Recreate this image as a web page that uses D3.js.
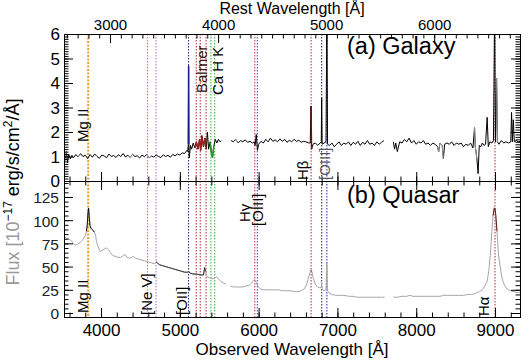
<!DOCTYPE html>
<html><head><meta charset="utf-8">
<script src="https://cdn.jsdelivr.net/npm/d3@7"></script>
<style>body{margin:0;background:#fff}svg{display:block}text{font-family:"Liberation Sans",Arial,sans-serif}</style>
</head><body><svg id="c" width="530" height="360"></svg>
<script>
// ---------------- data ----------------
const redshift = 0.3713;
// galaxy spectrum (observed wavelength [A], flux); null = no data
const galaxyWave = [3530,3545,3560,3575,3590,3610,3630,3650,3680,3710,3740,3770,3800,3830,3860,3890,3920,3950,3980,4010,4040,4070,4100,4130,4160,4190,4220,4250,4280,4310,4340,4370,4400,4430,4460,4490,4520,4550,4580,4610,4640,4670,4700,4730,4760,4790,4820,4850,4880,4910,4940,4970,5000,5030,5060,5090,5100,5108,5111,5114,5120,5135,5150,5170,5190,5210,5230,5250,5265,5280,5300,5320,5335,5350,5365,5385,5400,5415,5430,5450,5470,5490,5510,5525,5590,
5650,5680,5710,5740,5770,5800,5830,5860,5890,5920,5945,5955,5970,5985,6000,6030,6060,6090,6120,6150,6180,6210,6240,6270,6300,6330,6360,6390,6420,6450,6480,6510,6540,6570,6600,6630,6655,6665,6672,6690,6720,6750,6780,6795,6800,6806,6830,6855,6866,6875,6900,6930,6960,6990,7020,7050,7080,7110,7140,7170,7200,7230,7260,7290,7320,7350,7380,7410,7440,7470,7500,7530,7560,7590,7650,
7710,7725,7740,7760,7790,7820,7850,7880,7910,7940,7970,8000,8030,8060,8090,8120,8150,8180,8210,8240,8270,8285,8300,8330,8345,8360,8390,8420,8450,8480,8510,8540,8570,8600,8630,8660,8690,8720,8740,8750,8770,8785,8800,8820,8840,8860,8880,8900,8915,8935,8960,8980,8995,9005,9020,9030,9050,9080,9110,9140,9170,9200,9210,9220,9232,9245,9270,9300,9317];
const galaxyFlux = [1.25,0.85,1.2,0.75,1.1,0.9,1.05,0.95,1.08,0.98,1.12,1.0,1.05,0.92,1.08,0.97,1.1,1.0,0.93,1.06,1.02,0.95,1.1,1.0,1.04,0.96,1.07,1.0,1.12,0.98,1.05,0.97,1.09,1.0,1.03,0.94,1.06,0.99,1.08,0.95,1.02,0.98,1.06,1.0,0.96,1.07,1.0,1.05,0.97,1.08,1.03,1.1,1.06,1.15,1.12,1.25,1.2,1.5,4.7,1.5,0.95,1.45,1.3,1.55,1.35,1.6,1.3,1.7,1.25,1.85,1.4,1.75,1.3,2.0,1.3,1.6,1.15,0.95,1.4,1.7,1.55,1.7,1.6,1.65,null,
1.65,1.6,1.7,1.55,1.65,1.6,1.68,1.58,1.62,1.55,1.6,1.45,1.9,1.25,1.5,1.62,1.55,1.7,1.6,1.75,1.62,1.68,1.6,1.72,1.62,1.7,1.58,1.66,1.6,1.7,1.62,1.66,1.58,1.62,1.6,1.56,1.55,3.06,1.3,1.5,1.55,1.45,1.55,1.6,3.4,1.5,1.55,1.6,7,1.5,1.45,1.55,1.4,1.5,1.6,1.45,1.55,1.5,1.6,1.45,1.58,1.5,1.62,1.45,1.58,1.5,1.65,1.5,1.55,1.45,1.6,1.5,1.58,1.65,null,
1.6,1.3,1.55,1.2,1.6,1.55,1.7,1.6,1.75,1.55,1.65,1.5,1.6,1.55,1.65,1.5,1.55,1.45,1.55,1.5,1.4,1.2,1.55,1.45,0.9,1.5,1.55,1.5,1.6,1.45,1.55,1.5,1.55,1.4,1.5,1.45,1.55,1.35,2.2,1.4,0.9,0.3,1.45,1.4,1.55,1.45,1.5,2.6,1.4,1.6,1.55,1.65,7,1.6,4.2,1.6,1.5,1.65,1.55,1.6,1.55,1.6,2.8,1.6,2.5,1.6,1.65,1.6,1.62];
// quasar spectrum
const quasarWave = [3530,3560,3590,3620,3650,3670,3700,3734,3770,3800,3815,3825,3835,3842,3850,3860,3875,3898,3915,3930,3945,3970,3990,4010,4040,4070,4095,4120,4150,4180,4215,4250,4285,4305,4330,4360,4390,4410,4440,4480,4520,4560,4600,4640,4680,4700,4715,4740,4780,4820,4860,4900,4940,4980,5020,5060,5100,5111,5130,5170,5210,5260,5300,5315,5325,5345,5380,5420,5450,5470,5490,5520,5560,5590,5615,
5640,5680,5720,5760,5800,5840,5880,5910,5935,5952,5970,5990,6020,6060,6100,6150,6200,6250,6300,6350,6400,6450,6500,6540,6580,6610,6640,6660,6675,6695,6720,6750,6780,6795,6800,6806,6830,6855,6866,6874,6900,6930,6980,7030,7080,7150,7200,7250,7300,7350,7400,7450,7500,7560,7600,7650,
7710,7760,7820,7880,7920,7960,8000,8050,8100,8150,8200,8250,8300,8350,8400,8450,8500,8550,8600,8650,8700,8750,8800,8840,8870,8900,8920,8940,8960,8975,8990,9000,9010,9025,9045,9065,9090,9110,9140,9170,9200,9240,9280,9317];
const quasarFlux = [82,81,80,78,75,73,74,76,79,83,88,95,108,113,104,94,91,89,87,84,76,70,66,67,69,70,68,65,62,61,60,60,62,63,60,59,60,61,59,58,57,56,55,54,53,55,54,52,51,50,49,48,47,46,45,44,44,45,43,42,42,41,41,49,45,39,38,37,38,39,37,34,32,31,null,
29,28,28,28,28,29,30,32,35,36,33,29,26,25,25,25,25,25,24,24,24,23,23,24,26,31,40,46,45,37,31,28,27,28,33,26,24,25,54,24,21,20,19,19,19,18,18,17,17,17,17,17,17,17,17,null,
17,17,18,18,19,18,18,18,18,18,18,18,18,19,19,19,19,19,19,20,20,21,23,25,29,34,45,62,88,105,113,113,105,88,62,50,37,32,27,25,24,23,22,22];
// emission / absorption line markers (rest wavelength)
const lineRest   = [2798, 3346, 3426, 3727, 3798, 3835, 3889, 3934, 3969, 4340, 4363, 4861, 4959, 5007, 6563];
const lineColors = ["#e8a030","#a070d0","#a070d0","#202070","#b02828","#b02828","#b02828","#30b030","#30b030","#c03030","#404090","#b02828","#202070","#2828b0","#b02828"];
// highlighted (fit) regions of the spectra [start, end] observed
const galaxyGrey = [[3530,3565],[3700,3760],[4330,4420],[4570,4640],[5705,5760],[8270,8350],[8740,8770],[9010,9030]];
const galaxyColored = [[5105,5117],[5180,5345],[5385,5440],[6658,6672],[6797,6804],[6862,6870],[8990,9002]];
const galaxyColoredC = ["#1a1a8a","#9a2020","#209a20","#7a1010","#1a1a8a","#2020c0","#901010"];
const quasarDark = [[3812,3928],[4690,5330],[6655,6680],[6862,6870],[8965,9030]];
const quasarDarkC = ["#111","#333","#6a2020","#333","#6a1a1a"];
// tick values
const galaxyTicks = [0,1,2,3,4,5,6];
const quasarTicks = [0,25,50,75,100,125];
const obsTicks = [4000,5000,6000,7000,8000,9000];
const restTicks = [3000,4000,5000,6000];

// ---------------- drawing ----------------
const svg = d3.select("#c");
const L = 64, R = 520, T = 34, M = 181, B = 317;
const x = d3.scaleLinear().domain([3530, 9317]).range([L, R]);
const xr = d3.scaleLinear().domain([3530/(1+redshift), 9317/(1+redshift)]).range([L, R]);
const yG = d3.scaleLinear().domain([0, 6]).range([M, T]);
const yQ = d3.scaleLinear().domain([-4.3, 142.2]).range([B, M]);

const defs = svg.append("defs");
defs.append("clipPath").attr("id","cg").append("rect").attr("x",L).attr("y",T).attr("width",R-L).attr("height",M-T);
defs.append("clipPath").attr("id","cq").append("rect").attr("x",L).attr("y",M).attr("width",R-L).attr("height",B-M);

const galaxy = galaxyWave.map((w,i)=>({w, f: galaxyFlux[i]}));
const quasar = quasarWave.map((w,i)=>({w, f: quasarFlux[i]}));
const lineG = d3.line().defined(d=>d.f!=null).x(d=>x(d.w)).y(d=>yG(d.f));
const lineQ = d3.line().defined(d=>d.f!=null).x(d=>x(d.w)).y(d=>yQ(d.f));
const sub = (arr, a, b) => arr.filter(d => d.w >= a && d.w <= b);

// vertical line markers
function markers(y0, y1) {
  const g = svg.append("g");
  lineRest.forEach((r,i)=>{
    const xo = x(r*(1+redshift));
    g.append("line").attr("x1",xo).attr("x2",xo).attr("y1",y0).attr("y2",y1)
      .attr("stroke",lineColors[i]).attr("stroke-width", i===0?2:1)
      .attr("stroke-dasharray", i===0?"2,1.5":"1.5,1.5");
  });
}
markers(T, M); markers(M, B);

// galaxy
const gg = svg.append("g").attr("clip-path","url(#cg)");
gg.append("path").attr("d", lineG(galaxy)).attr("fill","none").attr("stroke","#000").attr("stroke-width",1);
galaxyGrey.forEach(([a,b])=>gg.append("path").attr("d", lineG(sub(galaxy,a,b))).attr("fill","none").attr("stroke","#999").attr("stroke-width",1));
galaxyColored.forEach(([a,b],i)=>gg.append("path").attr("d", lineG(sub(galaxy,a,b))).attr("fill","none").attr("stroke",galaxyColoredC[i]).attr("stroke-width",1.4));

// quasar
const qg = svg.append("g").attr("clip-path","url(#cq)");
qg.append("path").attr("d", lineQ(quasar)).attr("fill","none").attr("stroke","#a6a6a6").attr("stroke-width",1);
quasarDark.forEach(([a,b],i)=>qg.append("path").attr("d", lineQ(sub(quasar,a,b))).attr("fill","none").attr("stroke",quasarDarkC[i]).attr("stroke-width",1));

// axes
const font = "Liberation Sans, Arial, sans-serif";
function range(a,b,s){const o=[];for(let v=a;v<=b+1e-9;v+=s)o.push(+v.toFixed(6));return o;}
function ax(gen, tx, ty, ticks, size, labels, fs) {
  const g = svg.append("g").attr("transform",`translate(${tx},${ty})`)
    .call(gen.tickValues(ticks).tickSize(size).tickFormat(labels? d3.format("d") : ""));
  g.select(".domain").attr("stroke","#000");
  g.selectAll(".tick line").attr("stroke","#000");
  g.selectAll("text").attr("fill","#000").attr("font-size",fs||16).attr("font-family",font);
  return g;
}
const MJ = -9, MN = -4.5;
// galaxy panel
ax(d3.axisLeft(yG).tickPadding(4), L, 0, galaxyTicks, MJ, true, 17).selectAll("text").attr("dy","0.34em");
ax(d3.axisLeft(yG), L, 0, range(0,6,0.1), MN, false);
ax(d3.axisRight(yG), R, 0, galaxyTicks, MJ, false);
ax(d3.axisRight(yG), R, 0, range(0,6,0.1), MN, false);
ax(d3.axisBottom(x), 0, M, obsTicks, MJ, false);
ax(d3.axisBottom(x), 0, M, range(3600,9300,200), MN, false);
ax(d3.axisTop(xr).tickPadding(4), 0, T, restTicks, MJ, true, 15);
ax(d3.axisTop(xr), 0, T, range(2600,6700,100), MN, false);
// quasar panel
ax(d3.axisLeft(yQ).tickPadding(5), L, 0, quasarTicks, MJ, true, 15.5).selectAll("text").attr("fill","#222").attr("dy","0.38em");
ax(d3.axisLeft(yQ), L, 0, range(0,140,5), MN, false);
ax(d3.axisRight(yQ), R, 0, quasarTicks, MJ, false);
ax(d3.axisRight(yQ), R, 0, range(0,140,5), MN, false);
ax(d3.axisTop(x), 0, M, obsTicks, MJ, false);
ax(d3.axisTop(x), 0, M, range(3600,9300,200), MN, false);
ax(d3.axisBottom(x).tickPadding(7), 0, B, obsTicks, MJ, true, 17);
ax(d3.axisBottom(x), 0, B, range(3600,9300,200), MN, false);

// titles
svg.append("text").attr("x",292).attr("y",14).attr("text-anchor","middle").attr("font-size",16).attr("font-family",font).text("Rest Wavelength [Å]");
svg.append("text").attr("x",292).attr("y",355).attr("text-anchor","middle").attr("font-size",17).attr("font-family",font).text("Observed Wavelength [Å]");
svg.append("text").attr("x",347).attr("y",54).attr("font-size",23.5).attr("font-family",font).text("(a) Galaxy");
svg.append("text").attr("x",347).attr("y",203).attr("font-size",23.5).attr("font-family",font).text("(b) Quasar");
const yl = svg.append("text").attr("transform","translate(19,192) rotate(-90)").attr("text-anchor","middle").attr("font-size",18).attr("font-family",font);
yl.append("tspan").attr("fill","#999").text("Flux [10");
yl.append("tspan").attr("dy",-7).attr("font-size",12).text("−17");
yl.append("tspan").attr("dy",7).text(" erg/s/cm");
yl.append("tspan").attr("dy",-7).attr("font-size",12).text("2");
yl.append("tspan").attr("dy",7).text("/Å]");

// line labels (rotated)
function vlabel(txt, bx, by, color) {
  svg.append("text").attr("transform",`translate(${bx},${by}) rotate(-90)`).attr("font-size",15)
    .attr("font-family",font).attr("fill",color||"#000").text(txt);
}
vlabel("Mg II", 88, 142);
vlabel("Balmer", 207, 93, "#3a1010");
vlabel("Ca H K", 223, 95);
vlabel("Hβ", 308, 180);
vlabel("[OIII]", 330, 180, "#555");
vlabel("Mg II", 88, 313);
vlabel("[Ne V]", 152, 315);
vlabel("[OII]", 187, 315);
vlabel("Hγ", 250, 222);
vlabel("[OIII]", 263, 226);
vlabel("Hα", 489, 316);
</script></body></html>
